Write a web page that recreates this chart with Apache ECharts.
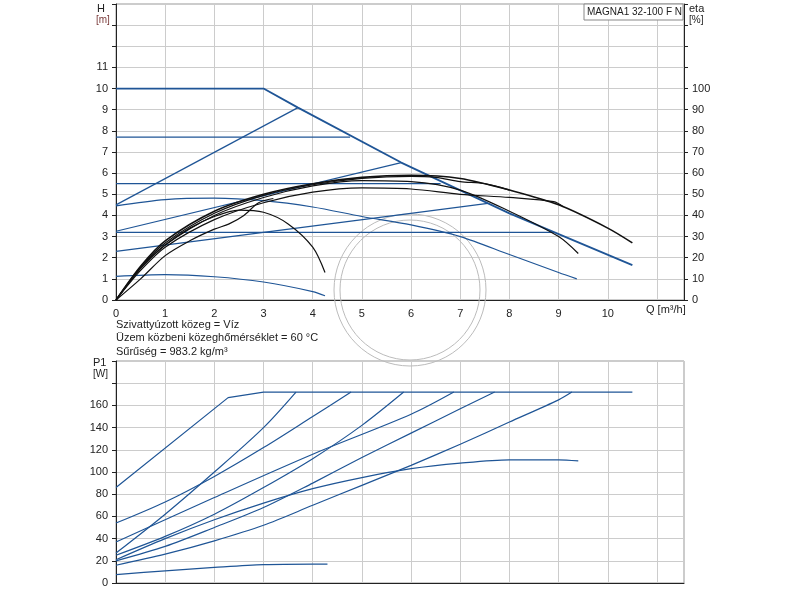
<!DOCTYPE html>
<html>
<head>
<meta charset="UTF-8">
<script src="https://cdn.jsdelivr.net/npm/echarts@6/dist/echarts.min.js"></script>
<style>
  * { margin: 0; padding: 0; }
  html, body { width: 800px; height: 600px; background: #fff; overflow: hidden; }
</style>
</head>
<body>
<div id="chart" style="width: 800px; height: 600px;"></div>
<script>
    // head curves H [m] vs Q [m3/h]
    var hMax = [[0, 10], [3, 10], [3.7, 9.1], [5.8, 6.5], [8, 4.1], [10.5, 1.65]]
    var hConst77 = [[0, 7.7], [4.76, 7.7]]
    var hConst55 = [[0, 5.5], [6.6, 5.5]]
    var hConst32 = [[0, 3.2], [8.9, 3.2]]
    var hProp1 = [[0, 4.5], [3.7, 9.1]]
    var hProp2 = [[0, 3.25], [5.8, 6.5]]
    var hProp3 = [[0, 2.3], [3, 3.2], [7.56, 4.57]]
    var hMinA = [[0, 4.45], [1, 4.75], [2, 4.82], [3, 4.7], [4, 4.4], [5, 3.95], [6, 3.55], [7, 3.0], [8, 2.15], [9, 1.3], [9.37, 1.0]]
    var hMinB = [[0, 1.12], [1, 1.2], [2, 1.1], [3, 0.85], [4, 0.4], [4.25, 0.2]]

    // efficiency curves eta [%]
    var etaA = [[0, 0], [0.5, 16], [1, 28], [2, 42], [3, 50], [4, 55], [5, 58], [6, 59], [7, 57.5], [8, 52], [9, 45], [10, 34], [10.5, 27]]
    var etaB = [[0, 0], [0.5, 15], [1, 26], [2, 40], [3, 48.5], [4, 54], [5, 56.5], [6, 56], [7, 52], [8, 42], [9, 30], [9.4, 22]]
    var etaC = [[0, 0], [0.5, 14], [1, 25], [2, 38], [3, 46], [4, 51], [5, 53], [6, 52.5], [7, 50], [8, 48.5], [8.9, 46.5], [9.1, 44]]
    var etaD = [[0, 0], [0.5, 15.5], [1, 27], [2, 41], [3, 49.5], [4, 54.5], [5, 57.5], [6, 58.5], [6.5, 58], [7, 56], [7.5, 55], [8, 52]]
    var etaE = [[0, 0], [0.5, 15], [1, 26], [1.5, 34], [2, 39.5], [2.5, 42.5], [3, 41.5], [3.5, 36], [4, 25], [4.25, 13]]
    var etaF = [[0, 0], [0.5, 10], [1, 21], [1.5, 28], [2, 33.5], [2.3, 36], [2.6, 40], [2.9, 46], [3.2, 48]]

    // power curves P1 [W]
    var p1 = [[0, 86], [2.28, 167], [3, 172], [10.5, 172]]
    var p2 = [[0, 27], [1, 62], [2, 100], [3, 140], [3.66, 172]]
    var p3 = [[0, 54], [1, 73], [2, 96], [3, 122], [4, 150], [4.78, 172]]
    var p4 = [[0, 25], [1, 42], [2, 62], [3, 86], [4, 112], [5, 142], [5.85, 172]]
    var p5 = [[0, 37], [2, 77], [4, 116], [6, 152], [6.87, 172]]
    var p6 = [[0, 20], [1, 33], [2, 50], [3, 68], [4, 90], [5, 113], [6, 135], [7, 157], [7.7, 172]]
    var p7 = [[0, 16], [1, 26], [2, 38], [3, 52], [4, 70], [5, 88], [6, 106], [7, 125], [8, 145], [9, 165], [9.27, 172]]
    var p8 = [[0, 21], [1, 40], [2, 57], [3, 72], [4, 85], [5, 95], [6, 103], [7, 108], [8, 111], [9, 111], [9.4, 110]]
    var p9 = [[0, 7.5], [1, 11], [2, 14], [3, 16.5], [4, 17], [4.3, 17]]

    var infoLines = ['Szivattyúzott közeg = Víz', 'Üzem közbeni közeghőmérséklet = 60 °C', 'Sűrűség = 983.2 kg/m³']

    var blue = '#1f5596'
    var font = 'Liberation Sans'

    function line(data, color, y, x, smooth, w) {
        return {
            type: 'line', data: data, showSymbol: false, smooth: smooth ? 0.3 : false,
            xAxisIndex: x, yAxisIndex: y, lineStyle: {color: color, width: w || 1.2},
            silent: true, animation: false
        }
    }

    function axisLab(max) {
        return {
            fontFamily: font, fontSize: 11, color: '#222',
            formatter: function (v) { return v > max ? '' : v }
        }
    }

    var chart = echarts.init(document.getElementById('chart'))
    chart.setOption({
        animation: false,
        grid: [
            {left: 116, top: 4, width: 568, height: 296, show: true, borderColor: '#999'},
            {left: 116, top: 361, width: 568, height: 222, show: true, borderColor: '#999'}
        ],
        xAxis: [
            {type: 'value', gridIndex: 0, min: 0, max: 11.55, interval: 1,
                axisLine: {lineStyle: {color: '#222'}}, axisTick: {show: false},
                axisLabel: axisLab(10), splitLine: {lineStyle: {color: '#ccc'}}},
            {type: 'value', gridIndex: 1, min: 0, max: 11.55, interval: 1,
                axisLine: {lineStyle: {color: '#222'}}, axisTick: {show: false},
                axisLabel: {show: false}, splitLine: {lineStyle: {color: '#ccc'}}}
        ],
        yAxis: [
            {type: 'value', gridIndex: 0, min: 0, max: 14, interval: 1,
                axisLine: {show: true, lineStyle: {color: '#222'}}, axisTick: {show: true, length: 4},
                axisLabel: axisLab(11), splitLine: {lineStyle: {color: '#ccc'}}},
            {type: 'value', gridIndex: 0, min: 0, max: 140, interval: 10, position: 'right',
                axisLine: {show: true, lineStyle: {color: '#222'}}, axisTick: {show: true, length: 4},
                axisLabel: axisLab(100), splitLine: {show: false}},
            {type: 'value', gridIndex: 1, min: 0, max: 200, interval: 20,
                axisLine: {show: true, lineStyle: {color: '#222'}}, axisTick: {show: true, length: 4},
                axisLabel: axisLab(160), splitLine: {lineStyle: {color: '#ccc'}}}
        ],
        graphic: [
            {type: 'circle', shape: {cx: 410, cy: 290, r: 76}, style: {fill: 'none', stroke: '#bbb', lineWidth: 1}, z: 1},
            {type: 'circle', shape: {cx: 410, cy: 290, r: 70}, style: {fill: 'none', stroke: '#bbb', lineWidth: 1}, z: 1},
            {type: 'rect', shape: {x: 584, y: 4, width: 99, height: 16}, style: {fill: '#fff', stroke: '#888'}, z: 10},
            {type: 'text', x: 587, y: 7, style: {text: 'MAGNA1 32-100 F N', font: '10px ' + font, fill: '#222'}, z: 11},
            {type: 'text', x: 97, y: 3, style: {text: 'H', font: '11px ' + font, fill: '#222'}},
            {type: 'text', x: 96, y: 15, style: {text: '[m]', font: '10px ' + font, fill: '#7a3a3a'}},
            {type: 'text', x: 689, y: 3, style: {text: 'eta', font: '11px ' + font, fill: '#222'}},
            {type: 'text', x: 689, y: 15, style: {text: '[%]', font: '10px ' + font, fill: '#222'}},
            {type: 'text', x: 646, y: 304, style: {text: 'Q [m³/h]', font: '11px ' + font, fill: '#222'}},
            {type: 'text', x: 93, y: 357, style: {text: 'P1', font: '11px ' + font, fill: '#222'}},
            {type: 'text', x: 93, y: 369, style: {text: '[W]', font: '10px ' + font, fill: '#222'}},
            {type: 'text', x: 116, y: 318, style: {text: infoLines.join('\n'), font: '11px ' + font, lineHeight: 13.5, fill: '#222'}}
        ],
        series: [
            line(hMax, blue, 0, 0, false, 1.8),
            line(hConst77, blue, 0, 0),
            line(hConst55, blue, 0, 0),
            line(hConst32, blue, 0, 0),
            line(hProp1, blue, 0, 0),
            line(hProp2, blue, 0, 0),
            line(hProp3, blue, 0, 0, true),
            line(hMinA, blue, 0, 0, true),
            line(hMinB, blue, 0, 0, true),
            line(etaA, '#111', 1, 0, true, 1.6),
            line(etaB, '#111', 1, 0, true),
            line(etaC, '#111', 1, 0, true),
            line(etaD, '#111', 1, 0, true),
            line(etaE, '#111', 1, 0, true),
            line(etaF, '#111', 1, 0, true),
            line(p1, blue, 2, 1),
            line(p2, blue, 2, 1, true),
            line(p3, blue, 2, 1, true),
            line(p4, blue, 2, 1, true),
            line(p5, blue, 2, 1, true),
            line(p6, blue, 2, 1, true),
            line(p7, blue, 2, 1, true),
            line(p8, blue, 2, 1, true),
            line(p9, blue, 2, 1, true)
        ]
    })
</script>
</body>
</html>
